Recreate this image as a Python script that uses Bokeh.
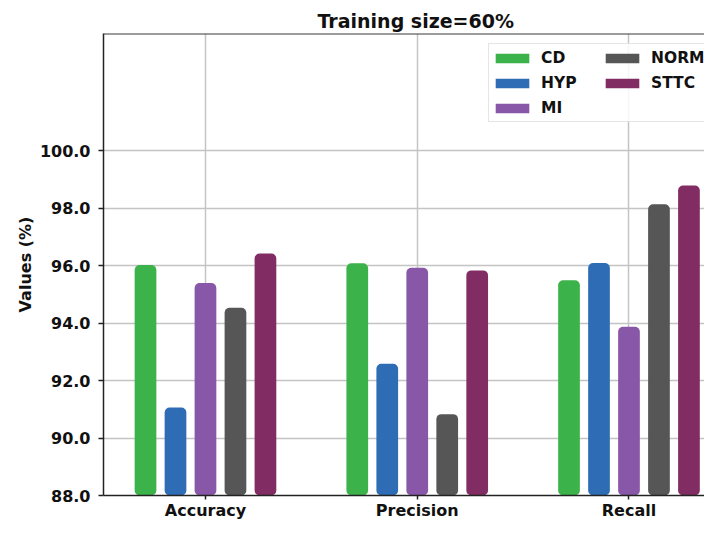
from bokeh.plotting import figure
from bokeh.models import (Range1d, FixedTicker, Legend, LegendItem, Title, Span,
                          ColumnDataSource, PrintfTickFormatter)
from bokeh.embed import file_html
from bokeh.resources import INLINE

# ---- data ----
categories = ["Accuracy", "Precision", "Recall"]
series_names = ["CD", "HYP", "MI", "NORM", "STTC"]
cd_values = [96.02, 96.08, 95.49]
hyp_values = [91.06, 92.58, 96.09]
mi_values = [95.39, 95.92, 93.87]
norm_values = [94.53, 90.83, 98.13]
sttc_values = [96.42, 95.83, 98.78]
series_values = [cd_values, hyp_values, mi_values, norm_values, sttc_values]
y_ticks = [88, 90, 92, 94, 96, 98, 100]
title_text = "Training size=60%"
y_label = "Values (%)"

# ---- styles ----
colors = ["#3bb34a", "#2e6cb5", "#8957a7", "#565656", "#822c64"]
FONT = "DejaVu Sans"
bar_pitch = 0.1416
bar_width = 0.1025
y_top = 104.07

p = figure(width=704, height=522, output_backend="svg", toolbar_location=None,
           title=None,
           x_range=Range1d(-0.4816, 2.3566), y_range=Range1d(88, y_top),
           min_border_left=103, min_border_right=0, min_border_top=33,
           min_border_bottom=27)
p.outline_line_color = None
p.background_fill_color = "white"

renderers = []
for i, (name, vals) in enumerate(zip(series_names, series_values)):
    xs = [j + (i - 2) * bar_pitch for j in range(len(categories))]
    src = ColumnDataSource(dict(x=xs, top=vals))
    r = p.vbar(x="x", top="top", bottom=0, width=bar_width, source=src,
               fill_color=colors[i], line_color=None, border_radius=5)
    renderers.append(r)

# axes
p.xaxis.ticker = FixedTicker(ticks=list(range(len(categories))))
p.xaxis.major_label_overrides = {i: c for i, c in enumerate(categories)}
p.yaxis.ticker = FixedTicker(ticks=y_ticks)
p.yaxis.formatter = PrintfTickFormatter(format="%.1f")
for ax in (p.xaxis, p.yaxis):
    ax.axis_line_color = "#222222"
    ax.axis_line_width = 1.5
    ax.major_tick_line_color = "#222222"
    ax.major_tick_line_width = 1.5
    ax.major_tick_in = 0
    ax.minor_tick_line_color = None
    ax.major_label_text_font = FONT
    ax.major_label_text_font_style = "bold"
    ax.major_label_text_color = "#111111"
p.yaxis.major_tick_out = 5
p.yaxis.major_label_standoff = 8
p.yaxis.major_label_text_font_size = "16px"
p.xaxis.major_tick_out = 4
p.xaxis.major_label_standoff = 1
p.xaxis.major_label_text_font_size = "16px"
p.yaxis.axis_label = y_label
p.yaxis.axis_label_text_font = FONT
p.yaxis.axis_label_text_font_style = "bold"
p.yaxis.axis_label_text_font_size = "16px"
p.yaxis.axis_label_standoff = 2
p.yaxis.axis_label_text_color = "#111111"

# grid
p.grid.grid_line_color = "#c4c4c4"
p.grid.grid_line_width = 1.5

# top spine
p.add_layout(Span(location=y_top, dimension="width", line_color="#3a3a3a", line_width=2))

# title
p.add_layout(Title(text=title_text, align="left", offset=214, standoff=4,
                   text_font=FONT, text_font_style="bold", text_font_size="19px",
                   text_color="#111111"), "above")

# legend
items = [LegendItem(label=n, renderers=[r]) for n, r in zip(series_names, renderers)]
legend = Legend(items=items, location=(385, 373), nrows=3, orientation="vertical",
                glyph_width=42, glyph_height=12, label_height=23, label_width=58,
                spacing=2, padding=2, label_standoff=8, margin=0,
                border_line_color="#cccccc", border_line_width=1,
                background_fill_alpha=0.85,
                label_text_font=FONT, label_text_font_style="bold",
                label_text_font_size="15.5px", label_text_color="#111111")
p.add_layout(legend)

open("out.html", "w").write(file_html(p, INLINE))
